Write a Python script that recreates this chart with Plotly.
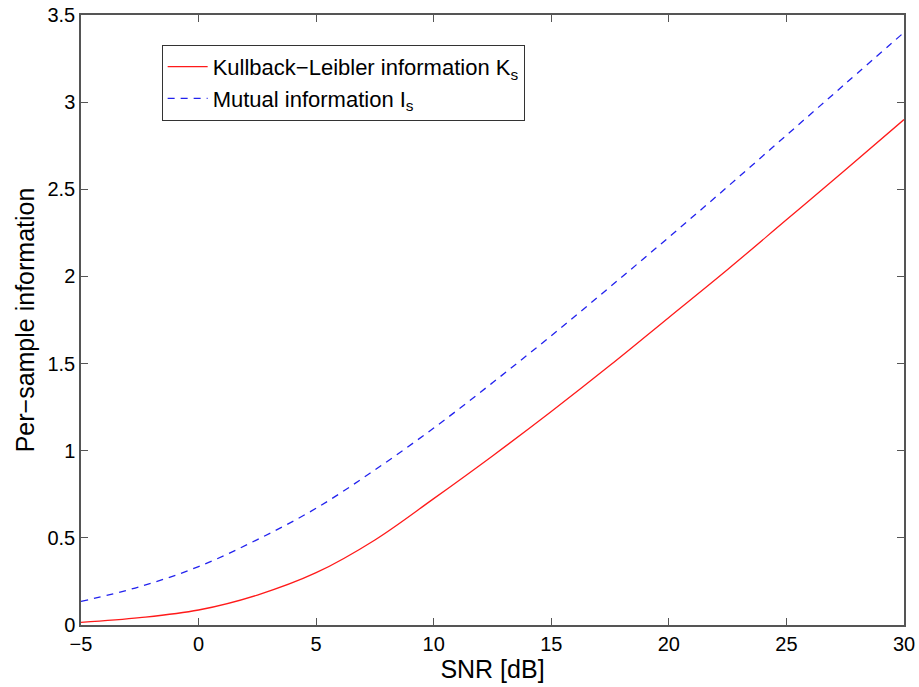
import plotly.graph_objects as go

# SNR grid (dB) and per-sample information curves
snr_db = [-5, -2.5, 0, 2.5, 5, 7.5, 10, 12.5, 15, 17.5, 20, 22.5, 25, 27.5, 30]
kl_info = [0.015, 0.042, 0.086, 0.172, 0.30, 0.488, 0.725, 0.97, 1.225, 1.49, 1.765, 2.04, 2.325, 2.61, 2.90]
mutual_info = [0.135, 0.22, 0.335, 0.49, 0.67, 0.89, 1.13, 1.39, 1.66, 1.94, 2.225, 2.515, 2.81, 3.105, 3.40]

x_ticks = [-5, 0, 5, 10, 15, 20, 25, 30]
y_ticks = [0, 0.5, 1, 1.5, 2, 2.5, 3, 3.5]
y_tick_text = ["0", "0.5", "1", "1.5", "2", "2.5", "3", "3.5"]

FONT = "Liberation Sans, Arial, Helvetica, sans-serif"

fig = go.Figure()
fig.add_trace(go.Scatter(
    x=snr_db, y=kl_info, mode="lines", line_shape="spline",
    line=dict(color="#ff1a1a", width=1.3, smoothing=1.0),
    name="Kullback\u2212Leibler information K<sub>s</sub>",
))
fig.add_trace(go.Scatter(
    x=snr_db, y=mutual_info, mode="lines", line_shape="spline",
    line=dict(color="#2222ee", width=1.3, dash="7px,6px", smoothing=1.0),
    name="Mutual information I<sub>s</sub>",
))

axis_common = dict(
    showline=True, linecolor="#555555", linewidth=1.5, mirror="ticks",
    ticks="inside", ticklen=7, tickwidth=1, tickcolor="#555555",
    showgrid=False, zeroline=False, automargin=False,
    tickfont=dict(family=FONT, size=20, color="black"),
)

fig.update_layout(
    width=919, height=687,
    margin=dict(l=81, r=15, t=15, b=62),
    paper_bgcolor="white", plot_bgcolor="white",
    font=dict(family=FONT, color="black"),
    xaxis=dict(
        range=[-5, 30], tickvals=x_ticks,
        title=dict(text="SNR [dB]", font=dict(family=FONT, size=25), standoff=4),
        **axis_common,
    ),
    yaxis=dict(
        range=[0, 3.5], tickvals=y_ticks, ticktext=y_tick_text,
        title=dict(text="Per\u2212sample information", font=dict(family=FONT, size=25), standoff=6),
        **axis_common,
    ),
    legend=dict(
        x=0.098, y=0.951, xanchor="left", yanchor="top",
        bgcolor="white", bordercolor="#333333", borderwidth=1,
        font=dict(family=FONT, size=22, color="black"),
        itemwidth=40,
    ),
    showlegend=True,
)

fig.write_html("out.html")
